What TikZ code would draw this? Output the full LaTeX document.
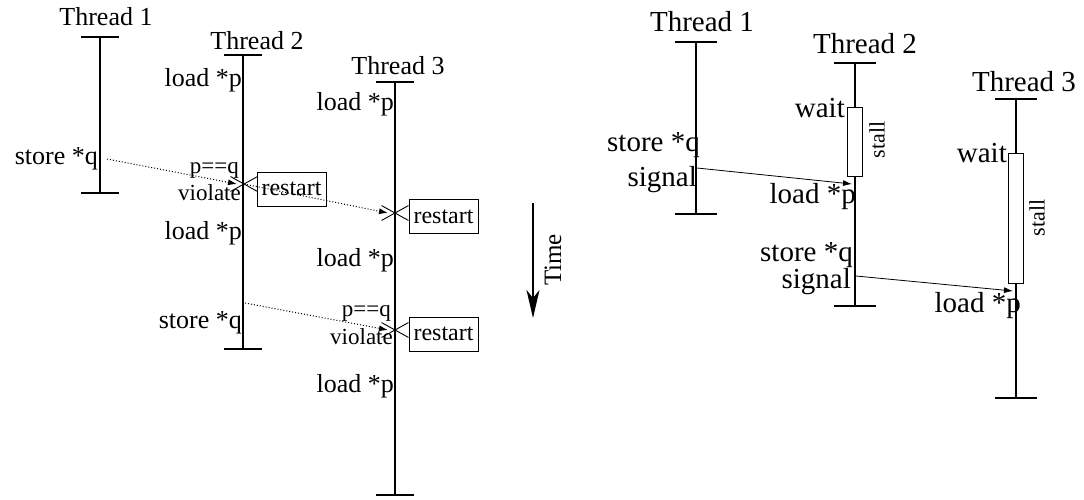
\documentclass[tikz,border=0pt]{standalone}
\usepackage{fontspec}
\setmainfont{Liberation Serif}
\usepackage{tikz}
\usetikzlibrary{positioning,arrows.meta,shapes.misc}

\begin{document}
\begin{tikzpicture}[
    x=1pt, y=-1pt,
    lifeline/.style={line width=1.2pt},
    title/.style={inner sep=0pt, font=\fontsize{26}{30}\selectfont},
    rtitle/.style={inner sep=0pt, font=\fontsize{29}{33}\selectfont},
    op/.style={anchor=east, inner sep=0pt, font=\fontsize{26}{30}\selectfont},
    rop/.style={anchor=east, inner sep=0pt, font=\fontsize{29}{33}\selectfont},
    small/.style={anchor=east, inner sep=0pt, font=\fontsize{23}{26}\selectfont},
    crossmark/.style={cross out, draw, line width=0.9pt, minimum width=26pt, minimum height=14pt, inner sep=0pt},
    restartbox/.style={rectangle, draw, line width=0.8pt, minimum width=69pt, minimum height=34pt, inner sep=0pt, font=\fontsize{24}{28}\selectfont},
    stallbox/.style={rectangle, draw, fill=white, line width=0.8pt, minimum width=15pt, inner sep=0pt},
    stalltext/.style={rotate=90, inner sep=0pt, font=\fontsize{22}{26}\selectfont},
    dotarrow/.style={dotted, line width=1pt, -{Latex[length=9pt,width=6pt]}},
    sigarrow/.style={line width=0.8pt, -{Latex[length=9pt,width=6pt]}}
]
    \useasboundingbox (0,0) rectangle (1084,499);

    % speculative threads
    \coordinate (a1top) at (100,37);  \coordinate (a1bot) at (100,193);
    \coordinate (a2top) at (243,55);  \coordinate (a2bot) at (243,349);
    \coordinate (a3top) at (395,82);  \coordinate (a3bot) at (395,495);
    \foreach \t in {a1,a2,a3} {
        \draw[lifeline] (\t top) -- (\t bot);
        \draw[lifeline] ([xshift=-19pt]\t top) -- ([xshift=19pt]\t top);
        \draw[lifeline] ([xshift=-19pt]\t bot) -- ([xshift=19pt]\t bot);
    }
    \node[title] (a1name) at (106,17) {Thread 1};
    \node[title] (a2name) at (257,41) {Thread 2};
    \node[title] (a3name) at (398,66) {Thread 3};

    \node[op] (a1st) at (98,159) {store *q};
    \node[op] (a2ld1) at (242,80) {load *p};
    \node[small] (a2eq) at (239,170) {p==q};
    \node[small] (a2vi) at (241,193) {violate};
    \node[op] (a2ld2) at (242,233) {load *p};
    \node[op] (a2st) at (242,323) {store *q};
    \node[op] (a3ld1) at (394,104) {load *p};
    \node[op] (a3ld2) at (394,260) {load *p};
    \node[small] (a3eq) at (391,313) {p==q};
    \node[small] (a3vi) at (393,337) {violate};
    \node[op] (a3ld3) at (394,386) {load *p};

    \node[crossmark] (v1) at (244,184) {};
    \node[crossmark] (v2) at (395,213) {};
    \node[crossmark] (v3) at (395,330) {};
    \node[restartbox] (r1) at (291.5,189) {restart};
    \node[restartbox] (r2) at (443.5,216.5) {restart};
    \node[restartbox] (r3) at (443.5,334) {restart};

    \coordinate (d1) at (107,159);
    \coordinate (d3) at (245,303);
    \draw[dotarrow] (d1) -- ([xshift=-7pt]v1.center);
    \draw[dotarrow] (v1.center) -- ([xshift=-7pt]v2.center);
    \draw[dotarrow] (d3) -- ([xshift=-7pt]v3.center);

    \coordinate (tstart) at (533,203);
    \coordinate (tend) at (533,318);
    \draw[line width=2pt, -{Stealth[length=28pt,width=13pt,inset=8pt]}] (tstart) -- (tend);
    \node[rotate=90, inner sep=0pt, font=\fontsize{25}{28}\selectfont] (time) at (553,260) {Time};

    % synchronized threads
    \coordinate (b1top) at (696,42);  \coordinate (b1bot) at (696,214);
    \coordinate (b2top) at (855,63);  \coordinate (b2bot) at (855,306);
    \coordinate (b3top) at (1016,99); \coordinate (b3bot) at (1016,398);
    \foreach \t in {b1,b2,b3} {
        \draw[lifeline] (\t top) -- (\t bot);
        \draw[lifeline] ([xshift=-21pt]\t top) -- ([xshift=21pt]\t top);
        \draw[lifeline] ([xshift=-21pt]\t bot) -- ([xshift=21pt]\t bot);
    }
    \node[rtitle] (b1name) at (702,22) {Thread 1};
    \node[rtitle] (b2name) at (865,44) {Thread 2};
    \node[rtitle] (b3name) at (1024,82) {Thread 3};

    \node[stallbox, minimum height=69pt] (s2) at (854.5,141.5) {};
    \node[stallbox, minimum height=130pt] (s3) at (1015.5,218) {};
    \node[stalltext] (s2t) at (877,140) {stall};
    \node[stalltext] (s3t) at (1037,218) {stall};

    \node[rop] (b1st) at (700,145) {store *q};
    \node[rop] (b1sg) at (697,180) {signal};
    \node[rop] (b2wt) at (845,108) {wait};
    \node[rop] (b2ld) at (856,197) {load *p};
    \node[rop] (b2st) at (853,255) {store *q};
    \node[rop] (b2sg) at (851,282) {signal};
    \node[rop] (b3wt) at (1007,153) {wait};
    \node[rop] (b3ld) at (1021,306) {load *p};

    \coordinate (g1) at (697,168);
    \coordinate (h1) at (852,184);
    \coordinate (g2) at (856,276);
    \coordinate (h2) at (1013,291);
    \draw[sigarrow] (g1) -- (h1);
    \draw[sigarrow] (g2) -- (h2);
\end{tikzpicture}
\end{document}
